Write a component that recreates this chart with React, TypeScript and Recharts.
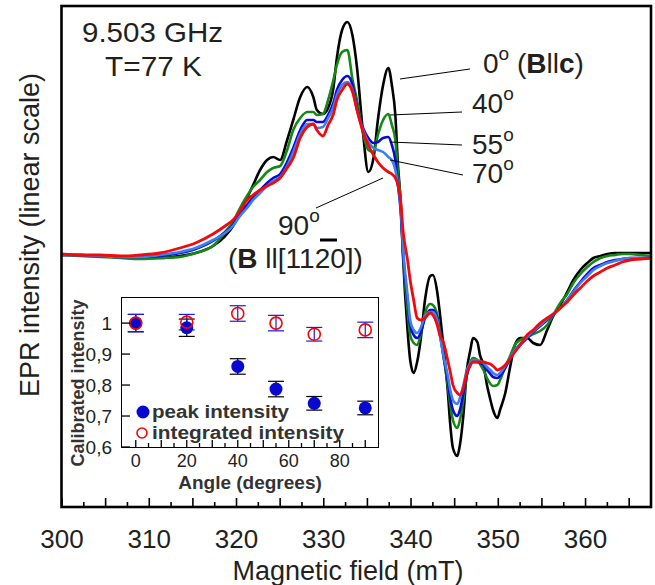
import React from 'react';
import { LineChart, Line, XAxis, YAxis, ComposedChart, Scatter, ErrorBar } from 'recharts';

// magnetic field (mT), shared by all spectra
const fieldMT = [
  300.0, 302.1, 304.4, 306.7, 308.9, 311.2, 313.5, 315.3, 317.3, 318.7,
  319.6, 320.4, 321.2, 321.9, 322.7, 323.5, 324.2, 325.0, 325.8, 326.5,
  327.3, 328.1, 328.8, 329.2, 329.9, 330.5, 331.1, 331.5, 332.1, 332.7,
  333.3, 333.8, 334.5, 335.1, 335.7, 336.2, 336.8, 337.4, 337.8, 338.2,
  338.5, 338.8, 339.1, 339.6, 339.9, 340.3, 340.7, 341.1, 341.6, 342.2,
  342.5, 343.0, 343.3, 343.7, 344.2, 344.5, 344.8, 345.3, 345.6, 346.0,
  346.4, 346.8, 347.1, 347.6, 347.9, 348.3, 348.7, 349.1, 349.4, 349.9,
  350.2, 350.8, 351.4, 351.9, 352.5, 353.3, 354.0, 354.8, 355.6, 356.3,
  357.1, 357.9, 358.6, 359.4, 360.2, 360.9, 361.7, 362.5, 363.4, 364.2,
  365.1, 366.3, 367.5,
];

// EPR intensity (arb. units, baseline = 0) for each angle
const epr0 = [
  0, 0, -1, -2, -3, -3, -1, 2, 9, 19,
  29, 43, 57, 70, 85, 95, 98, 95, 115, 135,
  158, 168, 158, 145, 141, 147, 167, 197, 225, 233,
  219, 188, 122, 83, 97, 135, 170, 187, 170, 140,
  90, 55, -5, -75, -105, -118, -107, -85, -45, -21,
  -20, -37, -58, -90, -135, -170, -193, -201, -190, -160,
  -115, -95, -83, -87, -100, -110, -130, -145, -155, -163,
  -155, -138, -110, -90, -83, -83, -88, -90, -75, -61,
  -50, -37, -25, -15, -8, -3, -1, 1, 2, 2,
  2, 2, 2,
];
const epr40 = [
  0, -1, -2, -3, -4, -3, -2, 2, 9, 23,
  33, 47, 59, 68, 75, 83, 87, 89, 105, 125,
  137, 143, 143, 140, 141, 155, 175, 190, 203, 205,
  175, 155, 122, 105, 103, 120, 135, 141, 130, 115,
  83, 55, 0, -55, -80, -88, -90, -80, -58, -49,
  -50, -60, -75, -100, -130, -150, -165, -173, -165, -145,
  -120, -107, -103, -105, -109, -115, -123, -129, -131, -130,
  -125, -112, -100, -90, -85, -82, -79, -76, -70, -60,
  -48, -39, -28, -19, -12, -7, -3, -1, 0, 1,
  1, 0, -1,
];
const epr55 = [
  0, 0, -1, -2, -2, -1, 2, 6, 14, 23,
  30, 42, 50, 58, 65, 72, 77, 81, 93, 107,
  125, 135, 135, 133, 133, 140, 152, 165, 175, 179,
  170, 147, 127, 117, 112, 113, 117, 118, 110, 95,
  70, 45, 0, -45, -70, -80, -83, -78, -63, -55,
  -55, -63, -78, -100, -125, -143, -155, -161, -155, -138,
  -120, -110, -107, -107, -108, -110, -115, -119, -122, -123,
  -121, -113, -103, -95, -90, -83, -77, -71, -65, -59,
  -53, -45, -36, -27, -19, -13, -10, -7, -5, -4,
  -3, -3, -3,
];
const epr70 = [
  0, 0, -1, -2, -2, 0, 3, 7, 15, 22,
  29, 39, 47, 55, 62, 69, 74, 78, 89, 103,
  121, 131, 131, 127, 128, 137, 148, 160, 170, 173,
  165, 145, 125, 113, 107, 105, 103, 98, 95, 85,
  70, 50, 5, -40, -65, -75, -78, -73, -61, -57,
  -57, -65, -80, -100, -120, -135, -145, -149, -143, -130,
  -115, -108, -105, -105, -106, -108, -112, -115, -118, -120,
  -118, -111, -102, -95, -89, -82, -76, -70, -64, -59,
  -53, -45, -37, -28, -21, -15, -11, -8, -6, -4,
  -3, -3, -3,
];
const epr90 = [
  1, 0, 0, -1, 0, 2, 7, 12, 21, 29,
  35, 44, 55, 60, 65, 69, 72, 77, 87, 97,
  117, 128, 131, 125, 119, 130, 141, 155, 165, 171,
  163, 145, 123, 110, 100, 93, 87, 83, 81, 77,
  70, 55, 23, -5, -25, -45, -63, -65, -63, -58,
  -60, -70, -80, -87, -105, -117, -130, -138, -140, -133,
  -118, -110, -107, -107, -107, -107, -108, -109, -111, -115,
  -114, -110, -103, -97, -90, -80, -75, -68, -63, -59,
  -53, -47, -40, -33, -26, -21, -17, -13, -10, -7,
  -5, -4, -3,
];

const fieldTicks = [
  300, 302.5, 305, 307.5, 310, 312.5, 315, 317.5, 320, 322.5, 325, 327.5, 330, 332.5,
  335, 337.5, 340, 342.5, 345, 347.5, 350, 352.5, 355, 357.5, 360, 362.5, 365,
];

// inset: calibrated intensity vs angle
const angles = [0, 20, 40, 55, 70, 90];
const peakIntensity = [1.0, 0.985, 0.86, 0.787, 0.741, 0.726];
const peakError = [0.028, 0.028, 0.025, 0.025, 0.022, 0.022];
const integratedIntensity = [1.0, 1.003, 1.031, 1.0, 0.964, 0.978];
const integratedError = [0.028, 0.025, 0.025, 0.025, 0.022, 0.025];
const angleTicks = [0, 5, 10, 15, 20, 25, 30, 35, 40, 45, 50, 55, 60, 65, 70, 75, 80, 85, 90];
const calibTicks = [0.6, 0.7, 0.8, 0.9, 1.0];

const FONT = '"Liberation Sans", Arial, sans-serif';
const INK = '#231f20';

const spectra = fieldMT.map((f, i) => ({
  field: f,
  a0: epr0[i],
  a40: epr40[i],
  a55: epr55[i],
  a70: epr70[i],
  a90: epr90[i],
}));

const insetRows = angles.map((a, i) => ({
  angle: a,
  peak: peakIntensity[i],
  peakErr: peakError[i],
  integ: integratedIntensity[i],
  integErr: integratedError[i],
}));

const FieldTick = (props: any) => {
  const { x, y, payload } = props;
  const v = payload.value;
  const major = v % 5 === 0;
  return (
    <g>
      <line x1={x} x2={x} y1={y} y2={y - (major ? 8 : 4)} stroke="#000" strokeWidth={1.6} />
      {v % 10 === 0 && (
        <text x={x} y={y + 42} textAnchor="middle" fontSize={26} fontFamily={FONT} fill={INK}>
          {v}
        </text>
      )}
    </g>
  );
};

const AngleTick = (props: any) => {
  const { x, y, payload } = props;
  const v = payload.value;
  return (
    <g>
      <line x1={x} x2={x} y1={y} y2={y - (v % 10 === 0 ? 7 : 4)} stroke="#000" strokeWidth={1.3} />
      {v % 20 === 0 && (
        <text x={x} y={y + 20} textAnchor="middle" fontSize={18} fontFamily={FONT} fill={INK}>
          {v}
        </text>
      )}
    </g>
  );
};

const CalibTick = (props: any) => {
  const { x, y, payload } = props;
  const v = payload.value;
  const label = v === 1 ? '1' : v.toFixed(1).replace('.', ',');
  return (
    <g>
      <line x1={x} x2={x + 8} y1={y} y2={y} stroke="#000" strokeWidth={1.3} />
      <text x={x - 10} y={y + 7} textAnchor="end" fontSize={19} fontFamily={FONT} fill={INK}>
        {label}
      </text>
    </g>
  );
};

const Sup = ({ children }: any) => (
  <tspan dy={-13} fontSize={19}>
    {children}
  </tspan>
);

export default function App() {
  return (
    <div style={{ position: 'absolute', left: 0, top: 0, width: 655, height: 585, background: '#fff' }}>
      <div style={{ position: 'absolute', left: 0, top: 0 }}>
        <LineChart width={655} height={585} data={spectra} margin={{ top: 7, right: 4, left: 62, bottom: 0 }}>
          <XAxis
            type="number"
            dataKey="field"
            domain={[300, 367.5]}
            ticks={fieldTicks}
            interval={0}
            tickSize={0}
            tickMargin={0}
            axisLine={false}
            tick={<FieldTick />}
            height={79}
            allowDataOverflow
          />
          <YAxis hide type="number" domain={[-251, 248]} allowDataOverflow />
          <Line type="monotone" dataKey="a0" stroke="#000000" strokeWidth={2.6} dot={false} isAnimationActive={false} />
          <Line type="monotone" dataKey="a40" stroke="#148814" strokeWidth={2.6} dot={false} isAnimationActive={false} />
          <Line type="monotone" dataKey="a55" stroke="#0a0ad8" strokeWidth={2.6} dot={false} isAnimationActive={false} />
          <Line type="monotone" dataKey="a70" stroke="#3b80ee" strokeWidth={2.6} dot={false} isAnimationActive={false} />
          <Line type="monotone" dataKey="a90" stroke="#f5080a" strokeWidth={2.8} dot={false} isAnimationActive={false} />
        </LineChart>
      </div>

      <svg
        width={655}
        height={585}
        style={{ position: 'absolute', left: 0, top: 0, pointerEvents: 'none' }}
        fontFamily={FONT}
        fill={INK}
      >
        <rect x={61.5} y={6} width={589.5} height={501} fill="none" stroke="#000" strokeWidth={2.6} />
        <text transform="translate(39,235) rotate(-90)" textAnchor="middle" fontSize={27}>
          EPR intensity (linear scale)
        </text>
        <text x={348} y={580} textAnchor="middle" fontSize={27}>
          Magnetic field (mT)
        </text>

        <text x={82} y={42} fontSize={28} textLength={141} lengthAdjust="spacingAndGlyphs">
          9.503 GHz
        </text>
        <text x={105} y={76} fontSize={28} textLength={97} lengthAdjust="spacingAndGlyphs">
          T=77 K
        </text>

        <text x={483} y={73} fontSize={28}>
          0<Sup>o</Sup>
          <tspan dy={13}> (</tspan>
          <tspan fontWeight="bold">B</tspan>ll<tspan fontWeight="bold">c</tspan>)
        </text>
        <text x={472} y={113} fontSize={28}>
          40<Sup>o</Sup>
        </text>
        <text x={472} y={154} fontSize={28}>
          55<Sup>o</Sup>
        </text>
        <text x={472} y={183} fontSize={28}>
          70<Sup>o</Sup>
        </text>
        <text x={278} y={235} fontSize={28}>
          90<Sup>o</Sup>
        </text>
        <text x={228} y={268} fontSize={28}>
          (<tspan fontWeight="bold">B</tspan> ll[1120])
        </text>
        <line x1={320} x2={337} y1={240} y2={240} stroke="#000" strokeWidth={3} />

        <g stroke="#000" strokeWidth={1}>
          <line x1={400} y1={79} x2={470} y2={69} />
          <line x1={390} y1={115} x2={462} y2={112} />
          <line x1={390} y1={142} x2={462} y2={145} />
          <line x1={390} y1={160} x2={463} y2={175} />
          <line x1={316} y1={208} x2={383} y2={178} />
        </g>
      </svg>

      <div
        style={{
          position: 'absolute',
          left: 121,
          top: 297,
          width: 258,
          height: 151,
          boxSizing: 'border-box',
          border: '1.5px solid #000',
          background: '#fff',
        }}
      />
      <div style={{ position: 'absolute', left: 60, top: 290 }}>
        <ComposedChart width={330} height={210} data={insetRows} margin={{ top: 8, right: 12, left: 22, bottom: 0 }}>
          <XAxis
            type="number"
            dataKey="angle"
            domain={[-5.4, 95]}
            ticks={angleTicks}
            interval={0}
            tickSize={0}
            tickMargin={0}
            axisLine={false}
            tick={<AngleTick />}
            height={53}
            allowDataOverflow
          />
          <YAxis
            type="number"
            domain={[0.6, 1.081]}
            ticks={calibTicks}
            interval={0}
            tickSize={0}
            tickMargin={0}
            axisLine={false}
            tick={<CalibTick />}
            width={40}
            allowDataOverflow
          />
          <Scatter
            dataKey="peak"
            isAnimationActive={false}
            shape={(p: any) => <circle cx={p.cx} cy={p.cy} r={6.5} fill="#0808d0" />}
          >
            <ErrorBar dataKey="peakErr" direction="y" width={8} stroke="#000" strokeWidth={1.2} />
          </Scatter>
          <Scatter
            dataKey="integ"
            isAnimationActive={false}
            shape={(p: any) => <circle cx={p.cx} cy={p.cy} r={6} fill="none" stroke="#f00" strokeWidth={1.6} />}
          >
            <ErrorBar dataKey="integErr" direction="y" width={8} stroke="#1a1ae0" strokeWidth={1.2} />
          </Scatter>
        </ComposedChart>
      </div>

      <svg
        width={655}
        height={585}
        style={{ position: 'absolute', left: 0, top: 0, pointerEvents: 'none' }}
        fontFamily={FONT}
        fill="#333"
        fontWeight="bold"
      >
        <text transform="translate(84,383) rotate(-90)" textAnchor="middle" fontSize={18}>
          Calibrated intensity
        </text>
        <text x={250} y={489} textAnchor="middle" fontSize={19}>
          Angle (degrees)
        </text>
        <circle cx={143} cy={412} r={6.5} fill="#0808d0" />
        <text x={152} y={418} fontSize={18} textLength={137} lengthAdjust="spacingAndGlyphs">
          peak intensity
        </text>
        <circle cx={142} cy={433} r={5} fill="none" stroke="#f00" strokeWidth={1.6} />
        <text x={152} y={439} fontSize={18} textLength={192} lengthAdjust="spacingAndGlyphs">
          integrated intensity
        </text>
      </svg>
    </div>
  );
}
